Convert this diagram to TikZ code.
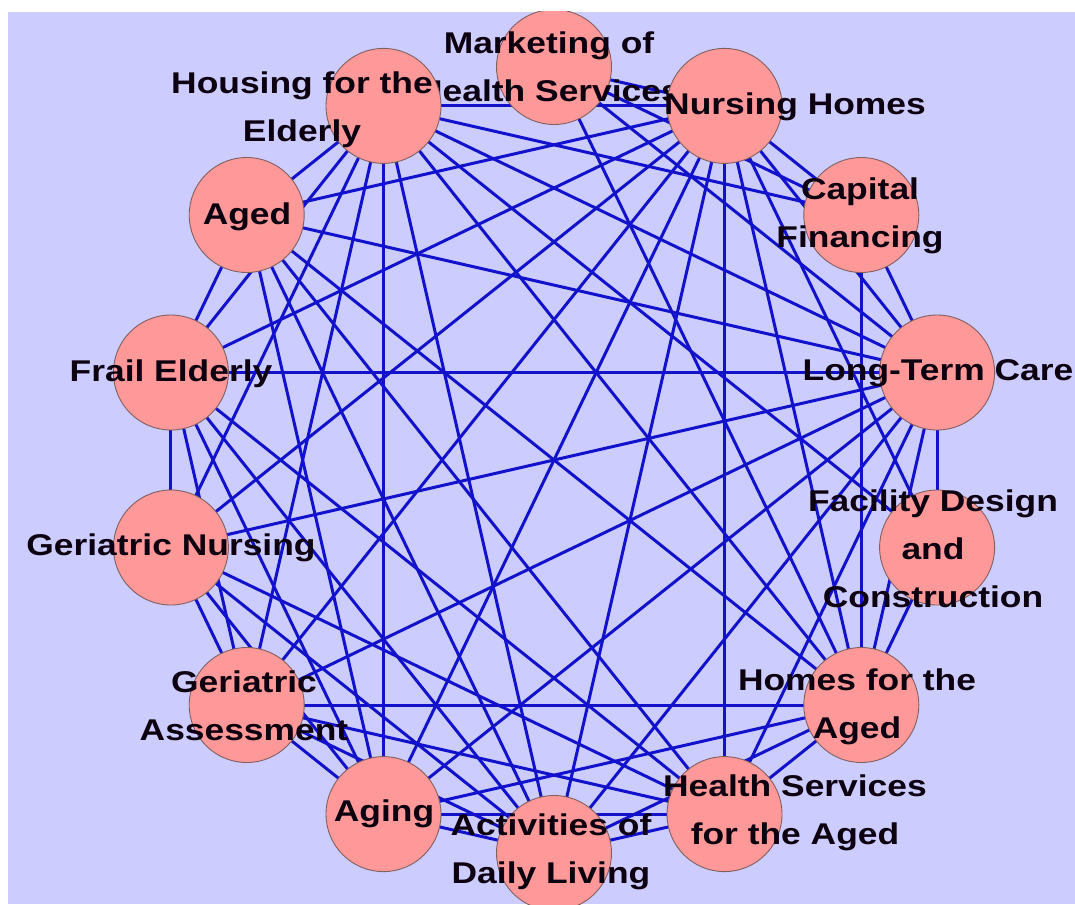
\documentclass[tikz,border=0pt]{standalone}
\usepackage{fontspec}
\setmainfont{Liberation Sans}[FakeStretch=1.18]
\definecolor{bgpanel}{RGB}{204,204,255}
\definecolor{nodefill}{RGB}{255,153,153}
\definecolor{nodeline}{RGB}{130,95,95}
\definecolor{linkblue}{RGB}{18,18,205}
\definecolor{labelink}{RGB}{12,0,16}
\begin{document}
\begin{tikzpicture}[x=1pt,y=-1pt,
  nodecirc/.style={circle,draw=nodeline,line width=0.9pt,fill=nodefill,minimum size=115pt,inner sep=0pt},
  lbl/.style={font=\fontsize{30}{48}\selectfont\bfseries,align=center,text=labelink,inner sep=0pt},
  edge/.style={draw=linkblue,line width=3pt}]
\fill[white] (0,0) rectangle (1075,904);
\useasboundingbox (0,0) rectangle (1075,904);
\clip (8,12) rectangle (1075,904);
\fill[bgpanel] (8,12) rectangle (1075,904);
% node centres on a circle around (554,460)
\coordinate (M) at (554,67);
\coordinate (NH) at (724.5,105.9);
\coordinate (CF) at (861.3,215);
\coordinate (LT) at (937.1,372.5);
\coordinate (FD) at (937.1,547.5);
\coordinate (HA) at (861.3,705);
\coordinate (HS) at (724.5,814.1);
\coordinate (AD) at (554,853);
\coordinate (AG) at (383.5,814.1);
\coordinate (GA) at (246.7,705);
\coordinate (GN) at (170.9,547.5);
\coordinate (FE) at (170.9,372.5);
\coordinate (AE) at (246.7,215);
\coordinate (HE) at (383.5,105.9);
% connectors
\foreach \a/\b in {M/NH,M/CF,M/LT,M/HA,
  HE/NH,HE/CF,HE/LT,HE/FD,HE/HA,HE/AD,HE/AG,HE/GA,HE/GN,HE/FE,HE/AE,
  AE/NH,AE/LT,AE/HA,AE/HS,AE/AD,AE/AG,AE/FE,
  FE/NH,FE/LT,FE/GN,FE/GA,FE/AG,FE/AD,FE/HS,
  GN/NH,GN/LT,GN/GA,GN/AG,GN/AD,GN/HS,
  GA/NH,GA/LT,GA/HA,GA/HS,GA/AD,GA/AG,
  AG/NH,AG/LT,AG/HS,AG/HA,AG/AD,
  AD/NH,AD/LT,AD/HA,AD/HS,
  HS/NH,HS/LT,HS/HA,
  HA/NH,HA/CF,HA/LT,HA/FD,
  FD/NH,FD/LT,
  LT/CF,LT/NH,
  CF/NH}
  \draw[edge] (\a) -- (\b);
% nodes with their labels, in stacking order
\node[nodecirc] (nM) at (M) {};
\node[lbl] (tM) at (549,67) {Marketing of\\Health Services};
\node[nodecirc] (nNH) at (NH) {};
\node[lbl] (tNH) at (795,107) {Nursing Homes};
\node[nodecirc] (nCF) at (CF) {};
\node[lbl] (tCF) at (860,216) {Capital\\Financing};
\node[nodecirc] (nLT) at (LT) {};
\node[lbl] (tLT) at (938,373) {Long-Term Care};
\node[nodecirc] (nFD) at (FD) {};
\node[lbl] (tFD) at (933,549) {Facility Design\\and\\Construction};
\node[nodecirc] (nHA) at (HA) {};
\node[lbl] (tHA) at (857,707) {Homes for the\\Aged};
\node[nodecirc] (nHS) at (HS) {};
\node[lbl] (tHS) at (795,813) {Health Services\\for the Aged};
\node[nodecirc] (nAD) at (AD) {};
\node[lbl] (tAD) at (551,852) {Activities of\\Daily Living};
\node[nodecirc] (nAG) at (AG) {};
\node[lbl] (tAG) at (384,814) {Aging};
\node[nodecirc] (nGA) at (GA) {};
\node[lbl] (tGA) at (244,706) {Geriatric\\Assessment};
\node[nodecirc] (nGN) at (GN) {};
\node[lbl] (tGN) at (171,548) {Geriatric Nursing};
\node[nodecirc] (nFE) at (FE) {};
\node[lbl] (tFE) at (171,374) {Frail Elderly};
\node[nodecirc] (nAE) at (AE) {};
\node[lbl] (tAE) at (247,217) {Aged};
\node[nodecirc] (nHE) at (HE) {};
\node[lbl] (tHE) at (302,110) {Housing for the\\Elderly};
\end{tikzpicture}
\end{document}
